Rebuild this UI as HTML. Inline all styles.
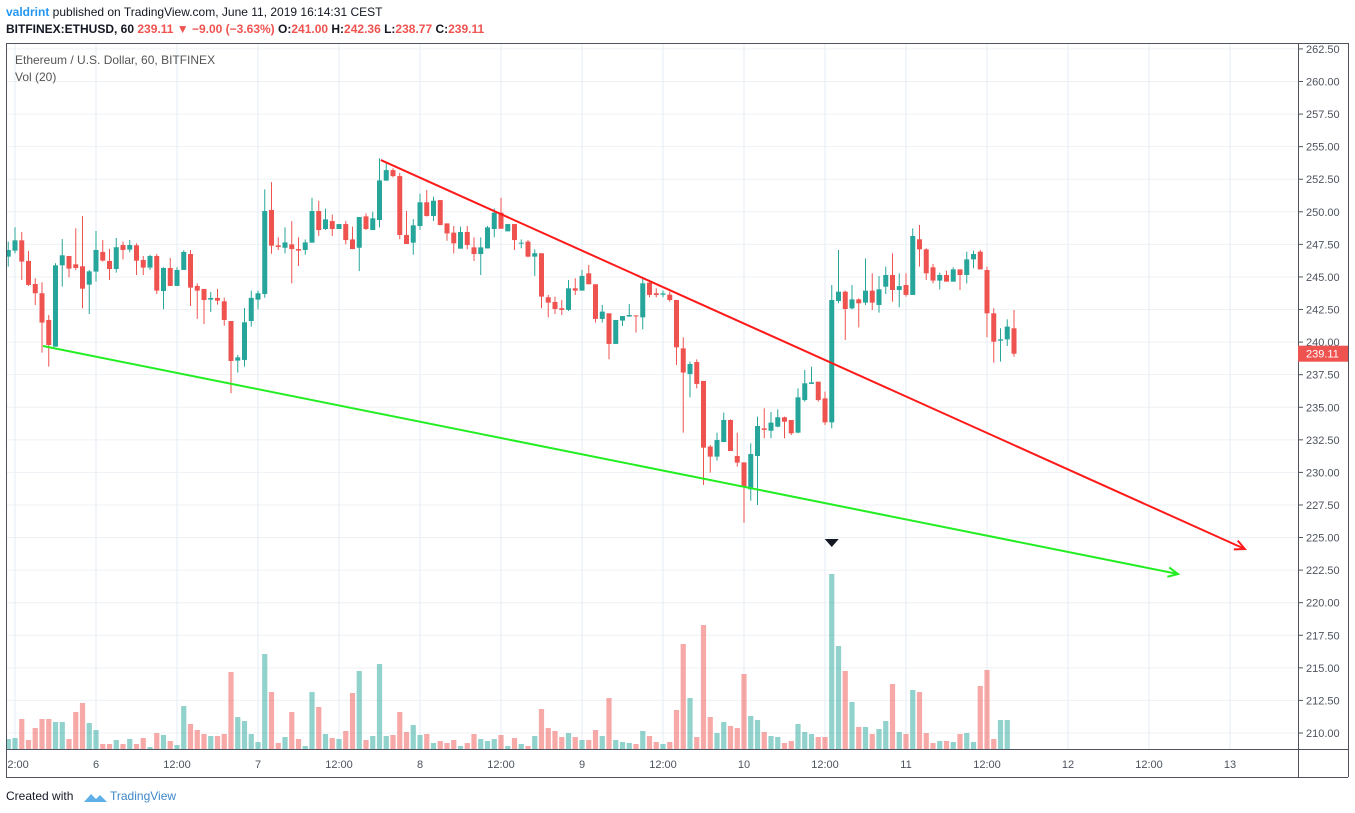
<!DOCTYPE html>
<html><head><meta charset="utf-8"><style>
html,body{margin:0;padding:0;background:#fff;width:1355px;height:813px;overflow:hidden;font-family:"Liberation Sans",Arial,sans-serif}
svg{display:block}
</style></head><body>
<svg id="chart" width="1355" height="813" viewBox="0 0 1355 813" xmlns="http://www.w3.org/2000/svg">
<defs><clipPath id="pane"><rect x="7" y="44" width="1291" height="705"/></clipPath>
<clipPath id="taxis"><rect x="7" y="749" width="1291" height="28"/></clipPath></defs>
<g font-size="12">
<text x="6" y="16"><tspan fill="#2196f3" font-weight="bold">valdrint</tspan><tspan fill="#131722"> published on TradingView.com, June 11, 2019 16:14:31 CEST</tspan></text>
<text x="6" y="33" fill="#131722" font-weight="bold">BITFINEX:ETHUSD, 60 <tspan fill="#ef5350">239.11 ▼ −9.00 (−3.63%)</tspan> O:<tspan fill="#ef5350">241.00</tspan> H:<tspan fill="#ef5350">242.36</tspan> L:<tspan fill="#ef5350">238.77</tspan> C:<tspan fill="#ef5350">239.11</tspan></text>
</g>
<g id="grid"></g>
<g id="vol" clip-path="url(#pane)"></g>
<g id="candles" clip-path="url(#pane)"></g>
<g id="draw" clip-path="url(#pane)"></g>
<text x="15" y="64" font-size="12" fill="#555">Ethereum / U.S. Dollar, 60, BITFINEX</text>
<text x="15" y="81" font-size="12" fill="#555">Vol (20)</text>
<g id="axes"></g>
<g>
<text x="6" y="800" font-size="12" fill="#131722">Created with</text>
<path d="M84 802 l7 -8 l5 5 l4 -4 l7 7 z" fill="#5fb0e8"/>
<text x="110" y="800" font-size="12" fill="#3d87c8">TradingView</text>
</g>
</svg>
<script>
const startIndex = -1;
const opens = [246.56,247.02,247.81,246.23,244.46,243.75,241.7,239.65,245.89,246.61,245.97,245.82,244.41,245.41,246.92,246.23,245.61,247.45,247.1,247.43,246.3,245.72,246.61,243.92,245.69,244.31,245.54,246.76,244.31,244.08,243.26,243.39,243.13,241.62,238.58,238.63,241.62,243.26,243.69,250.14,247.42,247.24,247.5,247.14,247.07,247.63,250.06,248.68,249.29,248.68,249.06,247.88,247.24,249.65,248.6,249.37,252.39,253.2,252.74,248.22,247.63,248.91,250.73,249.68,250.9,249.11,248.4,247.17,248.45,247.27,246.76,247.19,248.68,249.93,248.5,249.06,247.6,247.71,246.56,246.82,243.44,243.08,242.6,242.47,244.13,243.95,245.28,244.44,241.78,242.21,239.86,241.65,241.96,242.05,241.9,244.56,243.75,243.64,243.64,243.23,239.52,237.55,238.47,237.02,231.98,231.21,232.33,234.02,231.26,230.77,228.7,231.26,233.38,233.2,233.51,234.23,234.02,233.05,235.55,236.79,236.96,235.68,233.84,243.15,243.87,242.59,243.28,243.03,243.95,242.85,244.25,245.15,244.0,244.38,243.62,247.89,247.12,245.74,244.72,245.15,244.64,245.58,245.15,246.35,246.94,245.53,242.21,240.11,240.21,241.06];
const highs = [247.71,248.81,248.45,246.99,244.9,244.59,242.08,246.05,247.91,246.61,248.73,249.68,245.54,248.53,247.84,247.15,247.99,247.71,247.84,247.58,246.61,246.69,246.76,245.74,246.46,245.74,247.05,247.07,244.51,244.08,243.85,244.08,243.41,241.62,239.01,242.62,243.95,243.95,251.72,252.28,248.04,248.8,249.29,248.04,247.88,251.08,250.85,250.24,249.78,249.06,249.29,248.86,249.6,249.88,250.01,254.1,253.72,253.33,252.98,250.06,249.44,251.39,251.67,251.16,250.9,249.11,248.91,248.86,248.91,248.04,248.04,248.91,250.26,251.08,249.06,249.06,247.88,247.84,247.12,246.82,243.62,243.49,243.24,244.77,244.9,245.54,245.92,244.44,242.85,242.21,241.7,242.0,242.93,242.05,245.0,244.77,244.13,243.95,243.87,243.23,240.37,238.5,238.68,237.02,232.1,233.05,234.59,234.07,233.05,230.77,232.23,234.28,234.92,234.64,234.84,234.28,234.02,236.45,237.86,238.11,236.96,236.2,244.38,247.07,243.95,244.38,243.36,246.43,245.28,245.07,245.79,246.81,245.28,245.28,248.73,248.99,247.2,245.99,245.33,245.48,245.74,245.58,246.94,247.02,247.07,245.79,242.59,241.06,241.75,242.46];
const lows = [245.79,246.81,244.77,244.31,242.85,239.19,238.12,239.65,244.26,244.97,245.54,242.59,242.16,244.64,246.18,244.77,245.33,246.35,246.89,245.15,245.15,245.54,243.69,242.52,244.31,244.31,245.54,242.77,241.78,241.39,242.31,242.88,241.26,236.07,237.66,238.12,241.19,242.52,243.4,246.78,247.07,246.81,244.51,245.84,246.71,247.63,248.14,248.6,248.14,248.68,247.5,247.14,245.45,248.6,248.6,248.8,252.39,252.64,247.9,247.53,246.71,248.6,249.63,249.29,248.98,247.78,246.81,247.17,247.12,246.22,245.15,247.19,248.04,248.7,248.5,247.07,247.2,246.5,245.08,242.6,241.9,242.16,242.08,242.39,243.62,243.95,244.44,241.5,241.5,238.68,239.86,241.24,241.96,240.73,240.98,243.44,243.44,243.44,243.1,238.24,233.05,235.76,236.45,229.03,229.98,230.9,232.33,231.64,230.44,226.14,227.83,227.5,232.62,232.62,233.46,232.62,232.87,233.0,235.43,236.79,235.43,233.64,233.38,242.98,240.16,242.51,241.13,242.85,242.46,242.26,243.69,243.1,242.67,243.49,243.62,245.79,244.77,244.51,244.05,244.64,244.64,244.0,244.51,245.66,245.58,240.37,238.42,238.5,239.7,238.88];
const closes = [247.07,247.81,246.18,244.39,243.75,241.5,239.78,245.89,246.66,245.64,245.69,244.1,245.43,247.07,246.25,245.61,247.28,247.07,247.45,246.25,245.72,246.61,243.95,245.69,244.31,245.54,246.92,244.18,243.95,243.23,243.39,243.18,241.7,238.55,238.83,241.52,243.39,243.75,250.06,247.4,247.3,247.65,247.14,247.02,247.65,250.06,248.6,249.42,248.68,249.06,247.83,247.14,249.6,248.68,249.5,252.41,253.2,252.74,248.22,247.53,248.96,250.73,249.68,250.85,248.98,248.34,247.58,248.45,247.45,246.76,247.27,248.8,249.93,248.7,249.06,247.83,247.63,246.56,246.82,243.49,243.03,242.54,242.47,244.13,243.95,245.08,244.44,241.78,242.34,239.86,241.7,242.0,242.08,242.0,244.51,243.62,243.62,243.74,243.23,239.6,237.66,238.32,236.79,231.9,231.21,232.49,234.02,231.64,230.75,228.91,231.41,233.56,233.26,233.82,234.23,233.89,233.0,235.76,236.84,236.91,235.55,233.84,243.23,243.87,242.54,243.28,242.98,243.95,243.03,244.05,245.15,244.0,244.3,243.62,248.14,247.12,245.28,244.72,245.15,244.64,245.58,245.15,246.35,246.76,245.58,242.21,240.03,240.21,241.19,239.11];
const volumes = [10,11,30,9,21,30,30,27,27,10,37,46,26,19,5,5,9,5,10,5,11,2,16,14,8,4,43,25,19,15,13,13,15,77,32,28,15,7,95,57,6,12,37,10,3,57,42,15,11,10,18,56,78,9,13,85,13,14,37,17,24,14,15,6,8,6,9,3,6,15,10,8,10,14,3,11,5,3,13,40,21,18,12,16,12,9,9,19,13,51,9,7,6,5,18,13,7,5,7,39,105,51,12,124,32,16,27,23,21,75,33,29,17,13,12,6,8,25,17,15,12,12,175,103,78,47,22,22,15,20,28,65,17,15,59,57,16,6,8,8,7,15,16,7,63,79,10,29,29];
const priceTicks = [210,212.5,215,217.5,220,222.5,225,227.5,230,232.5,235,237.5,240,242.5,245,247.5,250,252.5,255,257.5,260,262.5];
const timeTickHours = [0,12,24,36,48,60,72,84,96,108,120,132,144,156,168,180];
const timeTickLabels = ["12:00","6","12:00","7","12:00","8","12:00","9","12:00","10","12:00","11","12:00","12","12:00","13"];
const lastPrice = 239.11;
const redTrend = [[54.2,253.97],[182.2,224.12]];
const greenTrend = [[4.15,239.7],[172.3,222.2]];
const markerIndex = 121;

const NS="http://www.w3.org/2000/svg";
const X0=15, HW=6.75, PY0=733, PPX=13.03, VBASE=749, VPX=1.0;
const xs=i=>X0+HW*i;
const ys=p=>PY0-(p-210)*PPX;
const yv=v=>VBASE-v*VPX;
function mk(tag,attrs,parent){const e=document.createElementNS(NS,tag);for(const k in attrs)e.setAttribute(k,attrs[k]);parent.appendChild(e);return e;}
const grid=document.getElementById('grid'),axes=document.getElementById('axes');
priceTicks.forEach(p=>{const l=mk('line',{x1:7,x2:1298,y1:ys(p),y2:ys(p),stroke:'#edf1f6','stroke-width':1},grid);

});
timeTickHours.forEach(h=>{const l=mk('line',{x1:xs(h),x2:xs(h),y1:44,y2:749,stroke:'#e6edf4','stroke-width':1},grid);

});
const GREEN='#26a69a',RED='#ef5350';
const vg=document.getElementById('vol'),cg=document.getElementById('candles');
closes.forEach((c,k)=>{const i=k+startIndex,o=opens[k];const up=c>=o;const col=up?GREEN:RED;const x=xs(i);
const v=mk('rect',{x:x-2.6,y:yv(volumes[k]),width:5.2,height:volumes[k]*VPX,fill:col,'fill-opacity':0.5},vg);


const hi=Math.max(highs[k],o,c),lo=Math.min(lows[k],o,c);
const w=mk('line',{x1:x,x2:x,y1:ys(hi),y2:ys(lo),stroke:col,'stroke-width':1},cg);


const t=ys(Math.max(o,c)),b=ys(Math.min(o,c));
const r=mk('rect',{x:x-2.5,y:t,width:5,height:Math.max(1,b-t),fill:col},cg);

});
const dg=document.getElementById('draw');
function trend(pts,col,name){const x1=xs(pts[0][0]),y1=ys(pts[0][1]),x2=xs(pts[1][0]),y2=ys(pts[1][1]);
const l=mk('line',{x1,y1,x2,y2,stroke:col,'stroke-width':2},dg);


const a=Math.atan2(y2-y1,x2-x1),L=11,s=0.45;
const p=mk('polyline',{points:`${x2-L*Math.cos(a-s)},${y2-L*Math.sin(a-s)} ${x2},${y2} ${x2-L*Math.cos(a+s)},${y2-L*Math.sin(a+s)}`,fill:'none',stroke:col,'stroke-width':2},dg);

}
trend(redTrend,'#ff1a1a','resistance-trendline');
trend(greenTrend,'#22ee22','support-trendline');
const mx=xs(markerIndex);
const m=mk('polygon',{points:`${mx-7},539 ${mx+7},539 ${mx},547`,fill:'#131722'},dg);


// frame
[[7,43.5,1348,43.5],[6.5,43,6.5,777],[1298.5,43,1298.5,777],[1348.5,43,1348.5,777],[6,749.5,1348,749.5],[6,777.5,1348,777.5]].forEach(s=>{const l=mk('line',{x1:s[0],y1:s[1],x2:s[2],y2:s[3],stroke:'#50535e','stroke-width':1},axes);

});
priceTicks.forEach(p=>{const y=ys(p);
const tk=mk('line',{x1:1298,x2:1303,y1:y,y2:y,stroke:'#50535e'},axes);


const t=mk('text',{x:1306,y:y+4,'font-size':11,fill:'#4c525e'},axes);t.textContent=p.toFixed(2);

});
const ly=ys(lastPrice);
const tag=mk('rect',{x:1298,y:ly-8,width:50,height:16,fill:'#ef5350'},axes);


const tt=mk('text',{x:1306,y:ly+4,'font-size':11,fill:'#fff'},axes);tt.textContent=lastPrice.toFixed(2);


const tg=mk('g',{'clip-path':'url(#taxis)'},axes);


timeTickHours.forEach((h,k)=>{const t=mk('text',{x:xs(h),y:768,'font-size':11,fill:'#4c525e','text-anchor':'middle'},tg);t.textContent=timeTickLabels[k];

});
</script>
</body></html>
